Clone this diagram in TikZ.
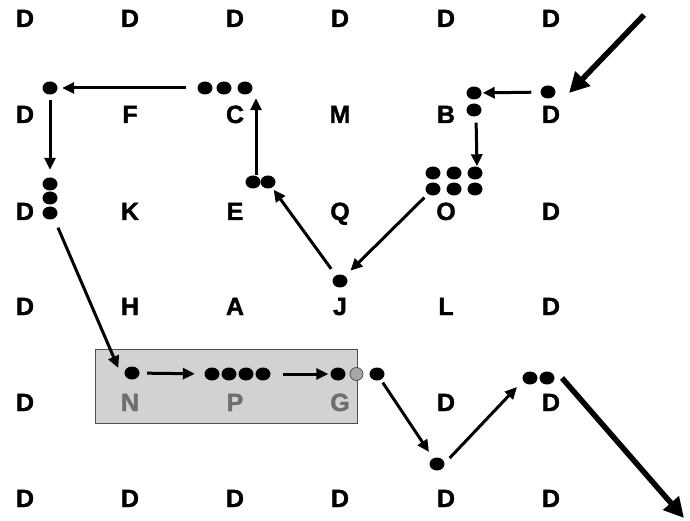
\documentclass[tikz,border=0pt]{standalone}
\usepackage{fontspec}
\setmainfont{Liberation Sans}
\newfontfamily\heavy[FakeBold=1.6]{Liberation Sans Bold}
\usetikzlibrary{arrows.meta,shapes.geometric,calc}
\definecolor{boxfill}{HTML}{D2D2D2}
\definecolor{boxline}{HTML}{505050}
\definecolor{greytext}{HTML}{6E6E6E}
\definecolor{greydot}{HTML}{A6A6A6}
\begin{document}
\begin{tikzpicture}[x=1bp,y=-1bp,
  lt/.style={font=\heavy\fontsize{25}{25}\selectfont, inner sep=0pt, anchor=base},
  glt/.style={lt, text=greytext},
  dot/.style={ellipse, fill=black, minimum width=15bp, minimum height=13bp, inner sep=0pt},
  gdot/.style={ellipse, fill=greydot, draw=boxline, line width=0.8bp, minimum width=13bp, minimum height=13bp, inner sep=0pt},
  arr/.style={line width=3bp, -{Triangle[length=12bp,width=11bp]}},
  bigarr/.style={line width=5.5bp, -{Triangle[length=20bp,width=20bp]}}]
\useasboundingbox (0,0) rectangle (690,521);
% grey box
\draw[fill=boxfill, draw=boxline, line width=0.8bp] (95,349) rectangle (357,423);
% letters grid
\foreach \r/\yy in {1/27,2/123,3/220,4/315,5/411,6/507}{
  \foreach \c/\xx in {1/25,2/130,3/235,4/340,5/446,6/551}{
    \coordinate (g\r\c) at (\xx,\yy);
  }
}
\node[lt] (L11) at (g11) {D};
\node[lt] (L12) at (g12) {D};
\node[lt] (L13) at (g13) {D};
\node[lt] (L14) at (g14) {D};
\node[lt] (L15) at (g15) {D};
\node[lt] (L16) at (g16) {D};
\node[lt] (L21) at (g21) {D};
\node[lt] (L22) at (g22) {F};
\node[lt] (L23) at (g23) {C};
\node[lt] (L24) at (g24) {M};
\node[lt] (L25) at (g25) {B};
\node[lt] (L26) at (g26) {D};
\node[lt] (L31) at (g31) {D};
\node[lt] (L32) at (g32) {K};
\node[lt] (L33) at (g33) {E};
\node[lt] (L34) at (g34) {Q};
\node[lt] (L35) at (g35) {O};
\node[lt] (L36) at (g36) {D};
\node[lt] (L41) at (g41) {D};
\node[lt] (L42) at (g42) {H};
\node[lt] (L43) at (g43) {A};
\node[lt] (L44) at (g44) {J};
\node[lt] (L45) at (g45) {L};
\node[lt] (L46) at (g46) {D};
\node[lt] (L51) at (g51) {D};
\node[glt] (L52) at (g52) {N};
\node[glt] (L53) at (g53) {P};
\node[glt] (L54) at (g54) {G};
\node[lt] (L55) at (g55) {D};
\node[lt] (L56) at (g56) {D};
\node[lt] (L61) at (g61) {D};
\node[lt] (L62) at (g62) {D};
\node[lt] (L63) at (g63) {D};
\node[lt] (L64) at (g64) {D};
\node[lt] (L65) at (g65) {D};
\node[lt] (L66) at (g66) {D};
% dots
\node[dot] (dA) at (50,88) {};
\node[dot] (c1) at (205,88) {};
\node[dot] (c2) at (224,88) {};
\node[dot] (c3) at (245,88) {};
\node[dot] (k1) at (50,184) {};
\node[dot] (k2) at (50,198) {};
\node[dot] (k3) at (50,213) {};
\node[dot] (e1) at (253,182) {};
\node[dot] (e2) at (268,182) {};
\node[dot] (j1) at (340,281) {};
\node[dot] (o11) at (433,173) {};
\node[dot] (o12) at (454,173) {};
\node[dot] (o13) at (475,173) {};
\node[dot] (o21) at (433,189) {};
\node[dot] (o22) at (454,189) {};
\node[dot] (o23) at (475,189) {};
\node[dot] (b1) at (474,93) {};
\node[dot] (b2) at (474,110) {};
\node[dot] (dB) at (548,92) {};
\node[dot] (n1) at (132,373) {};
\node[dot] (p1) at (212,374) {};
\node[dot] (p2) at (229,374) {};
\node[dot] (p3) at (246,374) {};
\node[dot] (p4) at (263,374) {};
\node[dot] (gg) at (338,374) {};
\node[gdot] (gy) at (356.5,374) {};
\node[dot] (x1) at (377,374) {};
\node[dot] (m1) at (437,464) {};
\node[dot] (r1) at (530,378) {};
\node[dot] (r2) at (547,378) {};
\coordinate (sA) at (644,15);
\coordinate (tA) at (569,93);
\coordinate (tB) at (684,518);
\coordinate (eu) at ($(e1.north)+(3,0)$);
% connectors
\draw[bigarr] (sA) -- (tA);
\draw[arr, shorten <=9bp, shorten >=1bp] (dB) -- (b1);
\draw[arr, shorten <=6bp] ($(b2.south)+(2,0)$) -- ($(o13.north)+(2,0)$);
\draw[arr, shorten <=5bp, shorten >=7.5bp] (o21) -- (j1);
\draw[arr, shorten <=8bp, shorten >=2.5bp] (j1) -- (e2);
\draw[arr, shorten >=3.5bp] (eu) -- (eu |- c3.south);
\draw[arr, shorten <=11bp, shorten >=4.5bp] (c1) -- (dA);
\draw[arr, shorten <=5.5bp, shorten >=7.5bp] (dA) -- (k1);
\draw[arr] ($(k3.south)+(8,8)$) -- ($(n1.west)+(-6,-5)$);
\draw[arr, shorten <=7.5bp, shorten >=9.5bp] (n1) -- (p1);
\draw[arr, shorten <=12.5bp, shorten >=2bp] (p4) -- (gg);
\draw[arr, shorten <=3.5bp, shorten >=7.5bp] (x1) -- (m1);
\draw[arr] ($(m1.east)+(5,-6)$) -- ($(r1)+(-13,9)$);
\draw[bigarr] ($(r2)+(15,0)$) -- (tB);
\end{tikzpicture}
\end{document}
